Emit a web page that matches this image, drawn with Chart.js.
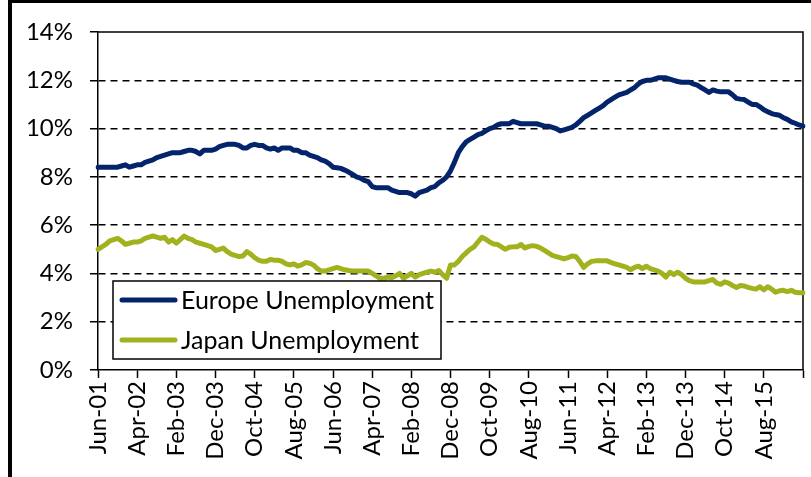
<!DOCTYPE html>
<html>
<head>
<meta charset="utf-8">
<script src="https://cdn.jsdelivr.net/npm/chart.js@4"></script>
<style>
  html, body { margin: 0; padding: 0; background: #fff; overflow: hidden; }
  #wrap { position: relative; width: 811px; height: 477px; }
  #wrap canvas { position: absolute; left: 0; top: 0; }
  #frame { position: absolute; left: 8px; top: -1px; width: 900px; height: 600px;
           border: 4px solid #000; box-sizing: border-box; pointer-events: none; }
</style>
</head>
<body>
<div id="wrap">
  <canvas id="chart" width="811" height="477"></canvas>
  <div id="frame"></div>
</div>
<script>
/* ---- data: monthly unemployment rate (%), Jun-01 .. Jun-16 ---- */
var START_YEAR = 2001, START_MONTH = 5;   // Jun 2001
var MONTH_NAMES = ['Jan', 'Feb', 'Mar', 'Apr', 'May', 'Jun', 'Jul', 'Aug', 'Sep', 'Oct', 'Nov', 'Dec'];
var TICK_EVERY = 10;

var europe = [
  8.4, 8.4, 8.4, 8.4, 8.4, 8.4, 8.45, 8.5, 8.4, 8.45,
  8.5, 8.5, 8.6, 8.65, 8.7, 8.8, 8.85, 8.9, 8.95, 9.0,
  9.0, 9.0, 9.05, 9.1, 9.1, 9.05, 8.95, 9.1, 9.1, 9.1,
  9.15, 9.25, 9.3, 9.35, 9.35, 9.35, 9.3, 9.2, 9.2, 9.3,
  9.35, 9.3, 9.3, 9.2, 9.15, 9.2, 9.1, 9.2, 9.2, 9.2,
  9.1, 9.1, 9.0, 9.0, 8.9, 8.85, 8.8, 8.7, 8.65, 8.55,
  8.4, 8.38, 8.35, 8.28, 8.2, 8.1, 8.0, 7.95, 7.85, 7.8,
  7.6, 7.55, 7.55, 7.55, 7.55, 7.45, 7.4, 7.35, 7.35, 7.35,
  7.3, 7.2, 7.35, 7.4, 7.45, 7.55, 7.6, 7.75, 7.85, 8.0,
  8.25, 8.6, 9.0, 9.25, 9.45, 9.55, 9.65, 9.75, 9.8, 9.9,
  10.0, 10.05, 10.15, 10.2, 10.2, 10.2, 10.3, 10.25, 10.2, 10.2,
  10.2, 10.2, 10.2, 10.15, 10.1, 10.1, 10.05, 10.0, 9.9, 9.95,
  10.0, 10.05, 10.15, 10.3, 10.45, 10.55, 10.65, 10.75, 10.85, 10.95,
  11.1, 11.2, 11.3, 11.4, 11.45, 11.5, 11.6, 11.7, 11.85, 11.95,
  12.0, 12.0, 12.05, 12.1, 12.1, 12.1, 12.05, 12.0, 11.95, 11.92,
  11.92, 11.92, 11.85, 11.8, 11.7, 11.6, 11.5, 11.6, 11.55, 11.52,
  11.52, 11.52, 11.4, 11.25, 11.22, 11.2, 11.1, 11.0, 11.0, 10.9,
  10.78, 10.7, 10.62, 10.58, 10.55, 10.45, 10.38, 10.28, 10.22, 10.15,
  10.1
];

var japan = [
  5.0, 5.1, 5.2, 5.35, 5.4, 5.45, 5.35, 5.2, 5.25, 5.3,
  5.3, 5.35, 5.45, 5.5, 5.55, 5.5, 5.45, 5.5, 5.3, 5.4,
  5.25, 5.4, 5.55, 5.45, 5.4, 5.3, 5.25, 5.2, 5.15, 5.1,
  4.95, 5.0, 5.05, 4.9, 4.8, 4.75, 4.7, 4.72, 4.9, 4.8,
  4.65, 4.55, 4.5, 4.5, 4.58, 4.55, 4.55, 4.5, 4.4, 4.35,
  4.4, 4.3, 4.35, 4.45, 4.42, 4.35, 4.2, 4.1, 4.1, 4.15,
  4.2, 4.25, 4.2, 4.15, 4.12, 4.1, 4.1, 4.1, 4.1, 4.1,
  4.0, 3.9, 3.8, 3.8, 3.85, 3.82, 3.9, 4.0, 3.8, 3.9,
  4.0, 3.85, 3.95, 4.0, 4.05, 4.1, 4.05, 4.12, 3.95, 3.8,
  4.35, 4.35, 4.5, 4.7, 4.85, 5.0, 5.1, 5.3, 5.5, 5.42,
  5.3, 5.22, 5.2, 5.1, 5.0, 5.08, 5.1, 5.1, 5.2, 5.05,
  5.12, 5.15, 5.12, 5.05, 4.95, 4.85, 4.75, 4.7, 4.65, 4.6,
  4.65, 4.72, 4.7, 4.5, 4.25, 4.4, 4.5, 4.52, 4.52, 4.52,
  4.52, 4.45, 4.4, 4.35, 4.3, 4.25, 4.15, 4.25, 4.3, 4.2,
  4.3, 4.2, 4.15, 4.1, 4.0, 3.85, 4.05, 3.95, 4.05, 3.95,
  3.8, 3.7, 3.65, 3.65, 3.65, 3.65, 3.7, 3.75, 3.6, 3.55,
  3.65, 3.6, 3.5, 3.42, 3.5, 3.48, 3.42, 3.38, 3.35, 3.45,
  3.32, 3.45, 3.35, 3.22, 3.28, 3.3, 3.25, 3.3, 3.22, 3.2,
  3.2
];

var seriesNames = ['Europe Unemployment', 'Japan Unemployment'];
var seriesColors = ['#03246a', '#a2b21f'];
var yTicks = [0, 2, 4, 6, 8, 10, 12, 14];

/* month labels 'Jun-01', 'Jul-01', ... one per data point */
var months = [];
for (var i = 0; i < europe.length; i++) {
  var m = START_MONTH + i;
  var yr = START_YEAR + Math.floor(m / 12);
  months.push(MONTH_NAMES[m % 12] + '-' + String(yr % 100).padStart(2, '0'));
}

var FONT = 'Lato, "Open Sans", sans-serif';

/* solid top / right edge of the plot area */
var plotFrame = {
  id: 'plotFrame',
  beforeDatasetsDraw: function (chart) {
    var a = chart.chartArea, ctx = chart.ctx;
    ctx.save();
    ctx.strokeStyle = '#000';
    ctx.lineWidth = 1.5;
    ctx.beginPath();
    ctx.moveTo(a.left, a.top);
    ctx.lineTo(a.right, a.top);
    ctx.lineTo(a.right, a.bottom);
    ctx.stroke();
    ctx.restore();
  }
};

/* boxed legend sitting inside the plot, lower left */
var boxLegend = {
  id: 'boxLegend',
  afterDraw: function (chart) {
    var a = chart.chartArea, ctx = chart.ctx;
    var x = a.left + 15, y = 281, w = 328, h = 78;
    ctx.save();
    ctx.fillStyle = '#fff';
    ctx.fillRect(x, y, w, h);
    ctx.strokeStyle = '#000';
    ctx.lineWidth = 1.5;
    ctx.strokeRect(x, y, w, h);
    chart.data.datasets.forEach(function (ds, k) {
      var ly = y + 19 + k * 40;
      ctx.strokeStyle = ds.borderColor;
      ctx.lineWidth = 5;
      ctx.lineCap = 'round';
      ctx.beginPath();
      ctx.moveTo(x + 9, ly);
      ctx.lineTo(x + 62, ly);
      ctx.stroke();
      ctx.fillStyle = '#000';
      ctx.font = '25px ' + FONT;
      ctx.textBaseline = 'middle';
      ctx.fillText(ds.label, x + 68, ly + 1);
    });
    ctx.restore();
  }
};

new Chart(document.getElementById('chart').getContext('2d'), {
  type: 'line',
  data: {
    labels: months,
    datasets: [
      { label: seriesNames[0], data: europe, borderColor: seriesColors[0], backgroundColor: seriesColors[0] },
      { label: seriesNames[1], data: japan, borderColor: seriesColors[1], backgroundColor: seriesColors[1] }
    ]
  },
  options: {
    responsive: false,
    animation: false,
    events: [],
    layout: { padding: { top: 32, right: 8, left: 0, bottom: 0 } },
    elements: {
      point: { radius: 0 },
      line: { borderWidth: 5, tension: 0, borderJoinStyle: 'round', borderCapStyle: 'round' }
    },
    plugins: { legend: { display: false }, tooltip: { enabled: false } },
    scales: {
      x: {
        type: 'category',
        offset: false,
        afterFit: function (s) { s.height = 107; s.paddingLeft = 0; s.paddingRight = 0; },
        border: { display: true, color: '#000', width: 1.5 },
        grid: {
          drawOnChartArea: false, drawTicks: true, tickLength: 8, tickWidth: 1.5,
          tickColor: function (c) { return c.index % TICK_EVERY === 0 ? '#000' : 'rgba(0,0,0,0)'; }
        },
        ticks: {
          autoSkip: false, minRotation: 90, maxRotation: 90, padding: 3,
          color: '#000', font: { family: FONT, size: 24 },
          callback: function (v, i) {
            return (i % TICK_EVERY === 0 && i < months.length - 1) ? months[i] : '';
          }
        }
      },
      y: {
        min: yTicks[0], max: yTicks[yTicks.length - 1],
        afterFit: function (s) { s.width = 98; s.paddingTop = 0; s.paddingBottom = 0; },
        afterBuildTicks: function (s) { s.ticks = yTicks.map(function (v) { return { value: v }; }); },
        border: { display: true, color: '#000', width: 1.5, dash: [7, 5] },
        grid: {
          drawTicks: true, tickLength: 8, tickWidth: 1.5, tickColor: '#000', lineWidth: 1.5,
          color: function (c) {
            var v = c.tick && c.tick.value;
            return (v === yTicks[0] || v === yTicks[yTicks.length - 1]) ? 'rgba(0,0,0,0)' : '#000';
          }
        },
        ticks: {
          padding: 17, color: '#000', font: { family: FONT, size: 24 },
          callback: function (v) { return v + '%'; }
        }
      }
    }
  },
  plugins: [plotFrame, boxLegend]
});
</script>
</body>
</html>
